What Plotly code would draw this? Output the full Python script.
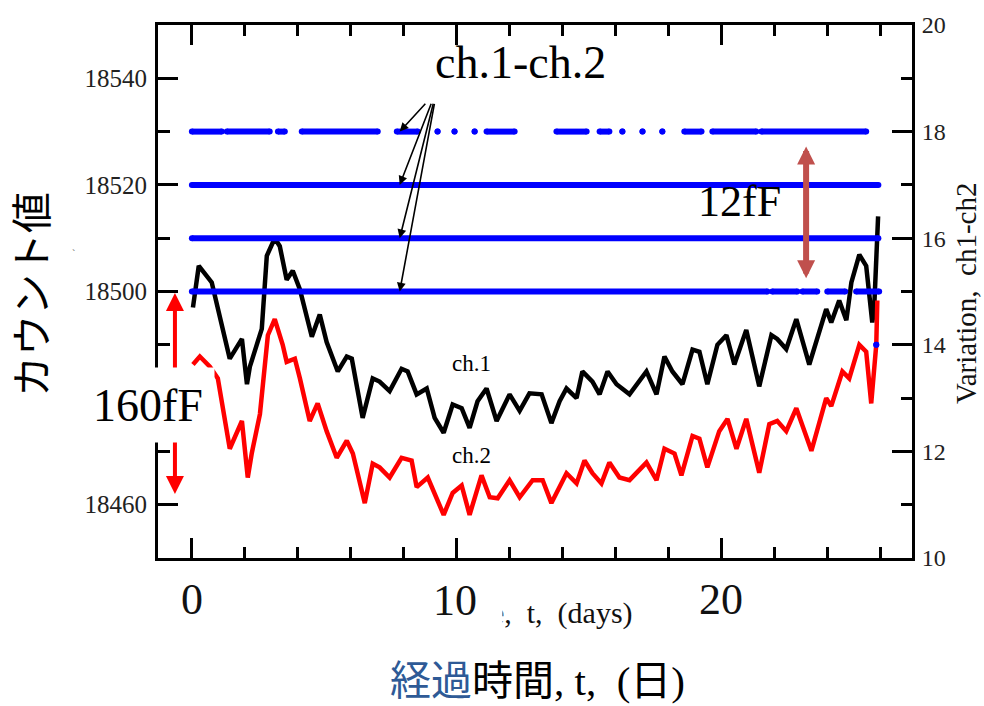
import plotly.graph_objects as go

# ---------------- data ----------------
ch1_days = [0.04, 0.26, 0.75, 1.43, 1.89, 2.08, 2.19, 2.64, 2.83, 3.13,
            3.32, 3.58, 3.81, 4.08, 4.53, 4.83, 5.09, 5.51, 5.85, 6.04,
            6.45, 6.83, 7.09, 7.47, 7.92, 8.15, 8.49, 8.87, 9.17, 9.51,
            9.85, 10.19, 10.49, 10.79, 11.13, 11.51, 12.0, 12.38, 12.75, 13.21,
            13.58, 13.89, 14.15, 14.53, 14.75, 15.13, 15.40, 15.70, 16.04, 16.53,
            17.17, 17.55, 17.85, 18.15, 18.53, 18.91, 19.17, 19.47, 19.85, 20.19,
            20.49, 20.94, 21.43, 21.89, 22.11, 22.45, 22.83, 23.32, 23.96, 24.15,
            24.45, 24.72, 24.91, 25.21, 25.47, 25.70, 25.77, 25.85, 25.92]
ch1_counts = [18497.0, 18504.8, 18501.7, 18487.4, 18491.1, 18482.6, 18485.9, 18493.0, 18506.7, 18510.0,
              18508.5, 18502.2, 18503.9, 18500.4, 18491.5, 18495.7, 18490.5, 18485.0, 18487.8, 18487.4,
              18476.3, 18483.7, 18483.1, 18481.3, 18485.5, 18485.0, 18480.7, 18481.8, 18476.3, 18473.5,
              18478.8, 18478.1, 18474.4, 18479.4, 18481.8, 18475.7, 18480.7, 18477.6, 18480.9, 18480.7,
              18475.3, 18479.4, 18481.8, 18480.0, 18485.0, 18483.1, 18480.7, 18485.0, 18482.6, 18480.7,
              18485.0, 18480.7, 18487.8, 18485.0, 18482.6, 18489.1, 18488.7, 18482.6, 18490.0, 18491.8,
              18486.3, 18492.8, 18482.2, 18491.8, 18491.1, 18489.2, 18494.8, 18486.3, 18496.7, 18494.2,
              18498.3, 18494.6, 18501.7, 18506.9, 18504.8, 18494.2, 18496.7, 18509.1, 18514.1]

ch2_days = [0.04, 0.30, 0.68, 0.98, 1.43, 1.89, 2.11, 2.26, 2.57, 2.87,
            3.13, 3.43, 3.58, 3.89, 4.08, 4.45, 4.75, 5.09, 5.47, 5.85,
            6.08, 6.53, 6.83, 7.09, 7.47, 7.92, 8.30, 8.49, 8.91, 9.25,
            9.51, 9.85, 10.19, 10.49, 10.94, 11.25, 11.55, 12.0, 12.38, 12.87,
            13.25, 13.58, 14.15, 14.53, 14.83, 15.13, 15.47, 15.77, 16.15, 16.53,
            17.17, 17.55, 17.85, 18.23, 18.49, 18.91, 19.17, 19.47, 19.92, 20.23,
            20.57, 20.94, 21.43, 21.81, 22.11, 22.45, 22.83, 23.40, 23.96, 24.15,
            24.57, 24.83, 25.21, 25.47, 25.66, 25.85, 25.89]
ch2_counts = [18486.3, 18487.8, 18485.9, 18483.7, 18470.5, 18475.7, 18465.1, 18469.6, 18477.0, 18491.8,
              18494.8, 18490.0, 18486.8, 18487.4, 18483.7, 18475.7, 18479.0, 18473.8, 18468.8, 18472.0,
              18469.6, 18460.3, 18467.7, 18467.0, 18465.1, 18468.8, 18468.3, 18463.3, 18465.1, 18460.9,
              18458.1, 18462.2, 18463.6, 18458.1, 18465.5, 18461.4, 18461.2, 18464.6, 18461.4, 18464.6,
              18464.6, 18460.3, 18465.9, 18464.0, 18468.3, 18465.9, 18464.0, 18467.9, 18465.1, 18464.6,
              18467.9, 18464.6, 18470.5, 18469.6, 18465.5, 18472.9, 18472.4, 18467.0, 18473.8, 18476.1,
              18470.5, 18476.1, 18466.0, 18475.1, 18475.7, 18473.8, 18478.1, 18470.1, 18480.0, 18478.5,
              18485.0, 18483.7, 18490.0, 18488.7, 18479.0, 18490.0, 18498.3]

# ch1-ch2 difference: runs of dots at each level (start day, end day)
diff18_runs = [(0.0, 1.13), (1.32, 2.94), (3.25, 3.51), (4.15, 7.02), (7.74, 8.53),
               (9.28, 9.28), (9.92, 9.92), (10.68, 10.68), (11.13, 12.19), (13.77, 14.91),
               (15.40, 15.77), (16.26, 16.26), (17.02, 17.02), (17.77, 17.77), (18.60, 19.25),
               (19.66, 21.32), (21.51, 25.47)]
diff17_runs = [(0.0, 25.93)]
diff16_runs = [(0.0, 25.93)]
diff15_runs = [(0.0, 21.74), (21.92, 22.87), (23.06, 23.62), (24.0, 24.68), (25.09, 25.96)]
diff14_runs = [(25.85, 25.85)]
diff_levels = [18, 17, 16, 15, 14]

x_tick_vals = [0, 10, 20]
x_tick_text = ["0", "10", "20"]
y_tick_vals = [18460, 18480, 18500, 18520, 18540]
y_tick_text = ["18460", "", "18500", "18520", "18540"]   # 18480 is hidden behind the 160fF box
y2_tick_vals = [10, 12, 14, 16, 18, 20]

# ---------------- figure ----------------
SERIF = "Liberation Serif, Times New Roman, serif"
CJK = "Noto Sans CJK JP, sans-serif"
MIX = "Liberation Serif, Noto Sans CJK JP, serif"

fig = go.Figure()

fig.add_trace(go.Scatter(x=ch1_days, y=ch1_counts, mode="lines",
                         line=dict(color="black", width=4.5), yaxis="y"))
fig.add_trace(go.Scatter(x=ch2_days, y=ch2_counts, mode="lines",
                         line=dict(color="#ff0000", width=4.5), yaxis="y"))

for level, runs in zip(diff_levels, [diff18_runs, diff17_runs, diff16_runs, diff15_runs, diff14_runs]):
    xs, ys = [], []
    for s, e in runs:
        xs += [s, e, None]
        ys += [level, level, None]
    fig.add_trace(go.Scatter(x=xs, y=ys, mode="lines+markers", yaxis="y2",
                             line=dict(color="#0000ff", width=6),
                             marker=dict(color="#0000ff", size=6)))

annotations = []

# original small axis title (partly hidden behind the big "10")
annotations.append(dict(x=13.04, y=-0.104, xref="x", yref="paper",
                        text="Time,\u00a0 t,\u00a0 (days)", showarrow=False,
                        font=dict(family=SERIF, size=30, color="#111"),
                        xanchor="center", yanchor="middle"))

# big x tick labels
for v, t in zip(x_tick_vals, x_tick_text):
    if t == "10":
        annotations.append(dict(x=v, y=-0.078, xref="x", yref="paper", text=t, showarrow=False,
                                font=dict(family=SERIF, size=44, color="#111"),
                                xanchor="left", yanchor="middle", xshift=-28,
                                width=66, height=50, align="left", bgcolor="white", borderpad=3))
    else:
        annotations.append(dict(x=v, y=-0.078, xref="x", yref="paper", text=t, showarrow=False,
                                font=dict(family=SERIF, size=44, color="#111"),
                                xanchor="center", yanchor="middle"))

# Japanese axis titles
annotations.append(dict(x=0.5027, y=-0.230, xref="paper", yref="paper",
                        text="<span style='color:#2E5A96'>経過</span>時間, t,\u00a0 (日)",
                        showarrow=False, font=dict(family=MIX, size=41, color="black"),
                        xanchor="center", yanchor="middle"))
annotations.append(dict(x=-0.171, y=0.4935, xref="paper", yref="paper", text="カウント値",
                        textangle=-90, showarrow=False,
                        font=dict(family=CJK, size=41, color="black"),
                        xanchor="center", yanchor="middle"))
annotations.append(dict(x=-0.1167, y=0.5714, xref="paper", yref="paper", text="`",
                        showarrow=False, font=dict(family=SERIF, size=10, color="#555")))
annotations.append(dict(x=1.0715, y=0.497, xref="paper", yref="paper",
                        text="Variation,\u00a0 ch1-ch2", textangle=-90, showarrow=False,
                        font=dict(family=SERIF, size=29, color="#111"),
                        xanchor="center", yanchor="middle", borderpad=0))

# ch.1-ch.2 label with arrows to the four dot rows
annotations.append(dict(x=12.42, y=19.30, xref="x", yref="y2", text="ch.1-ch.2",
                        showarrow=False, font=dict(family=SERIF, size=46, color="black")))
arrow_tails = [8.87, 9.06, 9.13, 9.17]
for lvl, tail in zip([18, 17, 16, 15], arrow_tails):
    annotations.append(dict(x=7.85, y=lvl, xref="x", yref="y2", ax=tail, ay=18.55,
                            axref="x", ayref="y2", text="", showarrow=True,
                            arrowhead=2, arrowsize=1.1, arrowwidth=1.6, arrowcolor="black"))

# channel labels
annotations.append(dict(x=10.57, y=18486.5, xref="x", yref="y", text="ch.1", showarrow=False,
                        font=dict(family=SERIF, size=23, color="black")))
annotations.append(dict(x=10.57, y=18469.2, xref="x", yref="y", text="ch.2", showarrow=False,
                        font=dict(family=SERIF, size=23, color="black")))

# 12fF double arrow
annotations.append(dict(x=23.2, y=15.25, xref="x", yref="y2", ax=23.2, ay=17.75,
                        axref="x", ayref="y2", text="", showarrow=True, arrowside="end+start",
                        arrowhead=2, startarrowhead=2, arrowsize=0.6, startarrowsize=0.6,
                        arrowwidth=6, arrowcolor="#C0504D"))
annotations.append(dict(x=20.7, y=16.69, xref="x", yref="y2", text="12fF", showarrow=False,
                        font=dict(family=SERIF, size=44, color="black")))

# 160fF double arrow + label with white box
annotations.append(dict(x=-0.64, y=18462, xref="x", yref="y", ax=-0.64, ay=18500,
                        axref="x", ayref="y", text="", showarrow=True, arrowside="end+start",
                        arrowhead=2, startarrowhead=2, arrowsize=0.9, startarrowsize=0.9,
                        arrowwidth=4, arrowcolor="#ff0000"))
annotations.append(dict(x=-0.0133, y=18478.7, xref="paper", yref="y", text="160fF",
                        showarrow=False, font=dict(family=SERIF, size=46, color="black"),
                        width=124, height=66, bgcolor="white", borderpad=4,
                        xanchor="center", yanchor="middle"))

axis_common = dict(showline=True, linewidth=3, linecolor="black", showgrid=False,
                   zeroline=False, ticks="inside", tickcolor="black", tickwidth=2.5)

fig.update_layout(
    width=984, height=706,
    margin=dict(l=158, r=72, t=19, b=148),
    paper_bgcolor="white", plot_bgcolor="white",
    showlegend=False,
    xaxis=dict(range=[-1.28, 27.2], tickvals=x_tick_vals, showticklabels=False,
               ticklen=20, mirror="ticks",
               minor=dict(ticks="inside", ticklen=11, tickwidth=2.5, tickcolor="black",
                          dtick=2, tick0=0),
               **axis_common),
    yaxis=dict(range=[18450, 18550], tickvals=y_tick_vals, ticktext=y_tick_text, ticklen=20,
               tickfont=dict(family=SERIF, size=25, color="#222"), ticklabelstandoff=3,
               minor=dict(ticks="inside", ticklen=12, tickwidth=2.5, tickcolor="black",
                          dtick=10, tick0=18450),
               **axis_common),
    yaxis2=dict(range=[10, 20], overlaying="y", side="right", tickvals=y2_tick_vals,
                ticklen=20, tickfont=dict(family=SERIF, size=24, color="#222"),
                ticklabelstandoff=2,
                minor=dict(ticks="inside", ticklen=11, tickwidth=2.5, tickcolor="black",
                           dtick=1, tick0=10),
                **axis_common),
    annotations=annotations,
)

fig.write_html("out.html", config={"displayModeBar": False},
               post_script="document.body.style.margin='0px';document.body.style.overflow='hidden';")
